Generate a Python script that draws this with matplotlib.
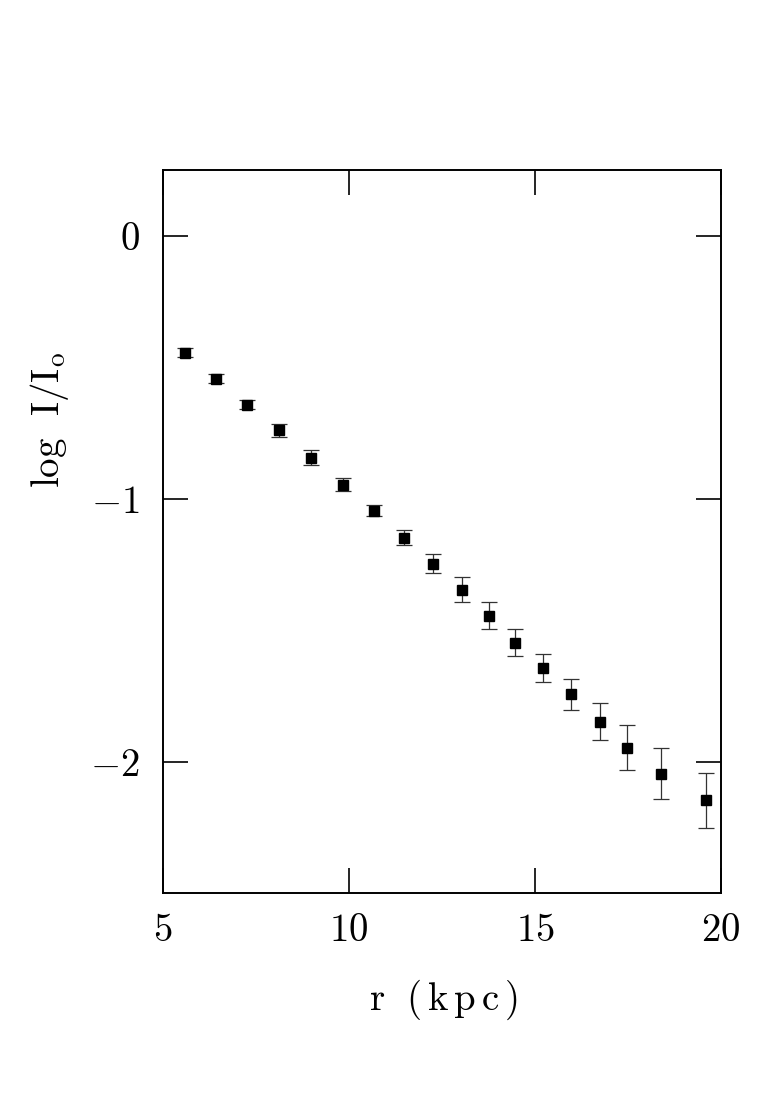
import matplotlib
matplotlib.use("Agg")
import matplotlib.pyplot as plt
from matplotlib.ticker import FixedLocator, FuncFormatter

# radial surface brightness profile
r_kpc = [5.59, 6.42, 7.26, 8.12, 8.98, 9.84, 10.67, 11.48, 12.26,
         13.04, 13.76, 14.46, 15.22, 15.97, 16.75, 17.47, 18.39, 19.60]
log_i = [-0.445, -0.544, -0.643, -0.741, -0.844, -0.947, -1.046, -1.148, -1.247,
         -1.346, -1.445, -1.548, -1.646, -1.745, -1.848, -1.947, -2.046, -2.148]
log_i_err = [0.018, 0.017, 0.018, 0.024, 0.029, 0.024, 0.020, 0.027, 0.037,
             0.046, 0.052, 0.052, 0.053, 0.060, 0.071, 0.084, 0.096, 0.106]

x_ticks = [5, 10, 15, 20]
y_ticks = [0, -1, -2]

plt.rcParams['mathtext.fontset'] = 'cm'
plt.rcParams['font.family'] = 'serif'

fig = plt.figure(figsize=(7.71, 11.13), dpi=100)
ax = fig.add_axes([0.2114, 0.1977, 0.7237, 0.6496])

ax.errorbar(r_kpc, log_i, yerr=log_i_err, fmt='s', color='black',
            markersize=6.5, ecolor='#333333', elinewidth=0.9,
            capsize=6, capthick=0.9)

ax.set_xlim(5, 20)
ax.set_ylim(-2.5, 0.25)

ax.xaxis.set_major_locator(FixedLocator(x_ticks))
ax.yaxis.set_major_locator(FixedLocator(y_ticks))
fmt = FuncFormatter(lambda v, p: r'$%d$' % round(v) if round(v) >= 0 else r'$-%d$' % abs(round(v)))
ax.xaxis.set_major_formatter(fmt)
ax.yaxis.set_major_formatter(fmt)

ax.tick_params(which='major', direction='in', length=18, width=1.2,
               top=True, right=True, labelsize=28)
ax.tick_params(axis='x', pad=14)
ax.tick_params(axis='y', pad=17)
for s in ax.spines.values():
    s.set_linewidth(1.4)

ax.set_xlabel(r'$\mathrm{r\ \ (\,k\,p\,c\,)}$', fontsize=28, va='center')
ax.set_ylabel(r'$\mathrm{log\ \ I/I_o}$', fontsize=28, va='center')
ax.xaxis.set_label_coords(0.502, -0.148)
ax.yaxis.set_label_coords(-0.2025, 0.654)

fig.savefig('out.png', dpi=100)
plt.close(fig)
